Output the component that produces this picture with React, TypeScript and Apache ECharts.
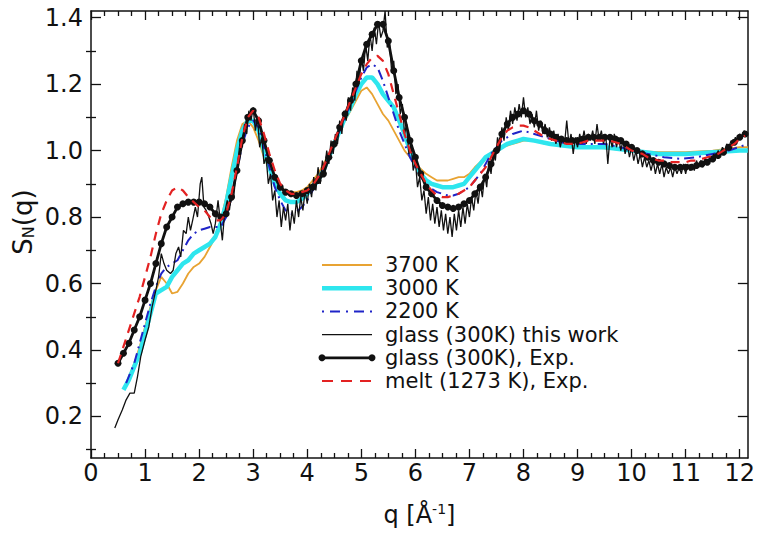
import React, { useEffect, useRef } from "react";
import * as echarts from "echarts";

// ---- tick labels ----
const xMajorTicks = [0, 1, 2, 3, 4, 5, 6, 7, 8, 9, 10, 11, 12];
const xMinorTicks = [0.25, 0.5, 0.75, 1.25, 1.5, 1.75, 2.25, 2.5, 2.75, 3.25, 3.5, 3.75, 4.25, 4.5, 4.75, 5.25, 5.5, 5.75, 6.25, 6.5, 6.75, 7.25, 7.5, 7.75, 8.25, 8.5, 8.75, 9.25, 9.5, 9.75, 10.25, 10.5, 10.75, 11.25, 11.5, 11.75];
const yMajorTicks = [0.2, 0.4, 0.6, 0.8, 1.0, 1.2, 1.4];
const yMinorTicks = [0.1, 0.3, 0.5, 0.7, 0.9, 1.1, 1.3];

// ---- series names ----
const names = ["3700 K", "3000 K", "2200 K", "glass (300K) this work", "glass (300K), Exp.", "melt (1273 K), Exp."];

// ---- data: [q, S_N(q)] ----
const s3700 = [[0.7,.32],[0.8,.36],[0.9,.41],[1.0,.47],[1.1,.53],[1.2,.58],[1.3,.62],[1.4,.60],[1.5,.57],[1.6,.575],[1.7,.60],[1.8,.63],[1.9,.65],[2.0,.66],[2.1,.68],[2.2,.71],[2.3,.74],[2.4,.79],[2.5,.86],[2.6,.95],[2.7,1.03],[2.8,1.08],[2.9,1.09],[3.0,1.07],[3.1,1.03],[3.2,.98],[3.3,.94],[3.4,.91],[3.5,.89],[3.6,.88],[3.7,.875],[3.8,.875],[3.9,.88],[4.0,.89],[4.1,.91],[4.2,.93],[4.3,.96],[4.4,.99],[4.5,1.02],[4.6,1.06],[4.7,1.09],[4.8,1.12],[4.9,1.15],[5.0,1.18],[5.1,1.19],[5.2,1.17],[5.3,1.14],[5.4,1.11],[5.5,1.09],[5.6,1.06],[5.7,1.03],[5.8,1.0],[5.9,.98],[6.0,.96],[6.1,.945],[6.2,.93],[6.3,.92],[6.4,.91],[6.5,.91],[6.6,.91],[6.7,.915],[6.8,.92],[6.9,.92],[7.0,.93],[7.1,.95],[7.2,.965],[7.3,.98],[7.4,.99],[7.5,1.0],[7.6,1.01],[7.7,1.015],[7.8,1.02],[7.9,1.025],[8.0,1.03],[8.2,1.03],[8.4,1.02],[8.6,1.02],[8.8,1.015],[9.0,1.015],[9.3,1.01],[9.6,1.005],[10.0,1.0],[10.5,.995],[11.0,.995],[11.5,1.0],[12.0,1.01],[12.15,1.01]];

const s3000 = [[0.6,.28],[0.7,.31],[0.8,.35],[0.9,.39],[1.0,.45],[1.1,.51],[1.2,.57],[1.3,.58],[1.4,.59],[1.5,.62],[1.6,.64],[1.7,.66],[1.8,.67],[1.9,.69],[2.0,.70],[2.1,.71],[2.2,.72],[2.3,.74],[2.4,.78],[2.5,.84],[2.6,.92],[2.7,1.0],[2.8,1.06],[2.9,1.09],[3.0,1.09],[3.1,1.06],[3.2,1.0],[3.3,.95],[3.4,.90],[3.5,.87],[3.6,.85],[3.7,.845],[3.8,.845],[3.9,.855],[4.0,.87],[4.1,.89],[4.2,.91],[4.3,.94],[4.4,.98],[4.5,1.02],[4.6,1.06],[4.7,1.10],[4.8,1.13],[4.9,1.17],[5.0,1.20],[5.1,1.22],[5.2,1.22],[5.3,1.20],[5.4,1.17],[5.5,1.15],[5.6,1.13],[5.7,1.09],[5.8,1.05],[5.9,1.0],[6.0,.96],[6.1,.93],[6.2,.91],[6.3,.90],[6.4,.895],[6.5,.89],[6.6,.89],[6.7,.89],[6.8,.895],[6.9,.90],[7.0,.92],[7.1,.94],[7.2,.96],[7.3,.98],[7.4,.99],[7.5,1.0],[7.6,1.01],[7.7,1.02],[7.8,1.025],[7.9,1.03],[8.0,1.035],[8.2,1.03],[8.5,1.02],[9.0,1.01],[9.5,1.01],[10.0,1.0],[10.5,.99],[11.0,.99],[11.5,.995],[12.0,1.0],[12.15,1.0]];

const s2200 = [[0.65,.30],[0.8,.36],[0.9,.42],[1.0,.48],[1.1,.54],[1.2,.59],[1.3,.63],[1.4,.65],[1.5,.66],[1.6,.67],[1.7,.70],[1.8,.73],[1.9,.75],[2.0,.76],[2.1,.765],[2.2,.77],[2.3,.77],[2.4,.77],[2.5,.80],[2.6,.86],[2.7,.94],[2.8,1.02],[2.9,1.07],[3.0,1.09],[3.1,1.07],[3.2,1.01],[3.3,.95],[3.4,.89],[3.5,.85],[3.6,.82],[3.7,.81],[3.8,.815],[3.9,.83],[4.0,.85],[4.1,.88],[4.2,.91],[4.3,.94],[4.4,.98],[4.5,1.02],[4.6,1.06],[4.7,1.10],[4.8,1.14],[4.9,1.18],[5.0,1.22],[5.1,1.25],[5.2,1.26],[5.3,1.25],[5.4,1.21],[5.5,1.16],[5.6,1.11],[5.7,1.06],[5.8,1.02],[5.9,.98],[6.0,.95],[6.1,.92],[6.2,.90],[6.3,.885],[6.4,.875],[6.5,.87],[6.6,.865],[6.7,.865],[6.8,.87],[6.9,.88],[7.0,.89],[7.1,.91],[7.2,.93],[7.3,.96],[7.4,.99],[7.5,1.01],[7.6,1.03],[7.7,1.04],[7.8,1.05],[7.9,1.055],[8.0,1.06],[8.1,1.055],[8.2,1.05],[8.4,1.04],[8.6,1.03],[8.8,1.02],[9.0,1.02],[9.2,1.02],[9.5,1.02],[9.8,1.01],[10.0,1.0],[10.3,.99],[10.6,.98],[10.9,.975],[11.2,.98],[11.5,.99],[11.8,1.0],[12.15,1.02]];

const sGlassSim = [[0.44,.165],[0.5,.19],[0.58,.22],[0.65,.25],[0.72,.27],[0.8,.27],[0.86,.32],[0.92,.38],[1.0,.43],[1.07,.47],[1.13,.53],[1.2,.58],[1.25,.62],[1.3,.69],[1.35,.66],[1.4,.64],[1.47,.63],[1.52,.64],[1.57,.69],[1.62,.71],[1.66,.68],[1.71,.76],[1.76,.75],[1.8,.80],[1.84,.76],[1.88,.79],[1.93,.83],[1.97,.80],[2.02,.90],[2.05,.92],[2.09,.83],[2.13,.82],[2.18,.80],[2.22,.78],[2.26,.75],[2.3,.78],[2.35,.85],[2.39,.79],[2.43,.73],[2.47,.81],[2.52,.85],[2.56,.82],[2.6,.87],[2.64,.86],[2.68,.93],[2.72,.97],[2.76,1.03],[2.8,1.01],[2.84,1.08],[2.88,1.05],[2.92,1.12],[2.96,1.09],[3.0,1.13],[3.04,1.06],[3.08,1.10],[3.12,1.01],[3.16,1.04],[3.2,.96],[3.24,.98],[3.28,.90],[3.32,.93],[3.36,.85],[3.4,.88],[3.44,.80],[3.48,.85],[3.52,.77],[3.56,.83],[3.6,.79],[3.64,.84],[3.68,.76],[3.72,.82],[3.76,.78],[3.8,.85],[3.84,.80],[3.88,.86],[3.92,.82],[3.96,.88],[4.0,.84],[4.04,.90],[4.08,.86],[4.12,.92],[4.16,.88],[4.2,.95],[4.24,.90],[4.28,.97],[4.32,.94],[4.36,1.0],[4.4,.96],[4.44,1.03],[4.48,.99],[4.52,1.05],[4.56,1.02],[4.6,1.09],[4.64,1.05],[4.68,1.12],[4.72,1.09],[4.76,1.16],[4.8,1.12],[4.84,1.19],[4.88,1.15],[4.92,1.24],[4.96,1.20],[5.0,1.28],[5.04,1.24],[5.08,1.32],[5.12,1.27],[5.16,1.35],[5.2,1.30],[5.24,1.37],[5.28,1.32],[5.32,1.39],[5.36,1.34],[5.4,1.36],[5.44,1.42],[5.48,1.31],[5.52,1.33],[5.56,1.24],[5.6,1.27],[5.64,1.17],[5.68,1.20],[5.72,1.11],[5.76,1.14],[5.8,1.05],[5.84,1.08],[5.88,.99],[5.92,1.02],[5.96,.94],[6.0,.97],[6.04,.89],[6.08,.92],[6.12,.85],[6.16,.88],[6.2,.81],[6.24,.86],[6.28,.79],[6.32,.84],[6.36,.78],[6.4,.83],[6.44,.77],[6.48,.82],[6.52,.76],[6.56,.81],[6.6,.75],[6.64,.80],[6.68,.74],[6.72,.81],[6.76,.76],[6.8,.82],[6.84,.77],[6.88,.83],[6.92,.78],[6.96,.84],[7.0,.80],[7.04,.86],[7.08,.82],[7.12,.88],[7.16,.84],[7.2,.90],[7.24,.86],[7.28,.93],[7.32,.89],[7.36,.97],[7.4,.93],[7.44,1.0],[7.48,.97],[7.52,1.04],[7.56,1.0],[7.6,1.07],[7.64,1.03],[7.68,1.10],[7.72,1.06],[7.76,1.12],[7.8,1.08],[7.84,1.13],[7.88,1.09],[7.92,1.14],[7.96,1.10],[8.0,1.16],[8.04,1.10],[8.08,1.13],[8.12,1.08],[8.16,1.11],[8.2,1.07],[8.24,1.12],[8.28,1.06],[8.32,1.09],[8.36,1.05],[8.4,1.08],[8.44,1.04],[8.48,1.07],[8.52,1.03],[8.56,1.06],[8.6,1.02],[8.64,1.05],[8.68,1.01],[8.72,1.04],[8.76,1.02],[8.8,1.09],[8.84,1.02],[8.88,1.05],[8.92,.99],[8.96,1.04],[9.0,1.01],[9.04,1.05],[9.08,1.02],[9.12,1.06],[9.16,1.02],[9.2,1.05],[9.24,1.03],[9.28,1.06],[9.32,1.02],[9.36,1.08],[9.4,1.03],[9.44,1.06],[9.48,1.02],[9.52,1.05],[9.56,.96],[9.6,1.04],[9.64,1.01],[9.68,1.05],[9.72,1.01],[9.76,1.04],[9.8,1.0],[9.84,1.03],[9.88,.99],[9.92,1.02],[9.96,.98],[10.0,1.01],[10.04,.97],[10.08,1.0],[10.12,.96],[10.16,.99],[10.2,.95],[10.24,.98],[10.28,.95],[10.32,.97],[10.36,.94],[10.4,.97],[10.44,.93],[10.48,.96],[10.52,.93],[10.56,.96],[10.6,.92],[10.64,.95],[10.68,.93],[10.72,.95],[10.76,.92],[10.8,.95],[10.84,.93],[10.88,.95],[10.92,.93],[10.96,.96],[11.0,.93],[11.04,.96],[11.08,.94],[11.12,.96],[11.16,.94],[11.2,.97],[11.24,.95],[11.28,.97],[11.32,.95],[11.36,.98],[11.4,.96],[11.44,.98],[11.48,.97],[11.52,.99],[11.56,.98],[11.6,1.0],[11.64,.99],[11.68,1.01],[11.72,1.0],[11.76,1.02],[11.8,1.01],[11.84,1.03],[11.88,1.02],[11.92,1.04],[11.96,1.03],[12.0,1.05],[12.04,1.04],[12.08,1.06],[12.12,1.05]];

const sGlassExp = [[0.5,.36],[0.6,.39],[0.7,.42],[0.8,.46],[0.9,.50],[1.0,.55],[1.1,.60],[1.2,.66],[1.3,.72],[1.4,.77],[1.5,.80],[1.6,.83],[1.7,.84],[1.8,.845],[1.9,.845],[2.0,.845],[2.1,.84],[2.2,.83],[2.3,.81],[2.4,.80],[2.5,.81],[2.6,.86],[2.7,.94],[2.8,1.03],[2.9,1.10],[3.0,1.12],[3.1,1.09],[3.2,1.03],[3.3,.97],[3.4,.92],[3.5,.89],[3.6,.875],[3.7,.87],[3.8,.865],[3.9,.87],[4.0,.88],[4.1,.89],[4.2,.91],[4.3,.93],[4.4,.98],[4.5,1.02],[4.6,1.07],[4.7,1.11],[4.8,1.15],[4.9,1.20],[5.0,1.27],[5.1,1.32],[5.2,1.35],[5.3,1.38],[5.4,1.38],[5.5,1.33],[5.6,1.24],[5.7,1.16],[5.8,1.10],[5.9,1.03],[6.0,.98],[6.1,.93],[6.2,.89],[6.3,.87],[6.4,.85],[6.5,.835],[6.6,.83],[6.7,.826],[6.8,.83],[6.9,.84],[7.0,.85],[7.1,.87],[7.2,.89],[7.3,.92],[7.4,.96],[7.5,1.0],[7.6,1.05],[7.7,1.08],[7.8,1.10],[7.9,1.11],[8.0,1.12],[8.1,1.11],[8.2,1.09],[8.3,1.08],[8.4,1.06],[8.5,1.05],[8.6,1.04],[8.7,1.035],[8.8,1.03],[8.9,1.03],[9.0,1.03],[9.1,1.035],[9.2,1.04],[9.3,1.04],[9.4,1.04],[9.5,1.04],[9.6,1.04],[9.7,1.035],[9.8,1.03],[9.9,1.02],[10.0,1.01],[10.1,1.0],[10.2,.99],[10.3,.98],[10.4,.97],[10.5,.965],[10.6,.96],[10.7,.955],[10.8,.95],[10.9,.95],[11.0,.95],[11.1,.95],[11.2,.955],[11.3,.96],[11.4,.965],[11.5,.975],[11.6,.985],[11.7,.995],[11.8,1.01],[11.9,1.025],[12.0,1.04],[12.1,1.05]];

const sMelt = [[0.5,.36],[0.6,.41],[0.7,.46],[0.8,.51],[0.9,.56],[1.0,.62],[1.1,.68],[1.2,.75],[1.3,.81],[1.4,.85],[1.5,.88],[1.6,.89],[1.7,.88],[1.8,.86],[1.9,.845],[2.0,.83],[2.1,.82],[2.2,.80],[2.3,.79],[2.4,.79],[2.5,.81],[2.6,.87],[2.7,.95],[2.8,1.04],[2.9,1.10],[3.0,1.12],[3.1,1.10],[3.2,1.05],[3.3,.99],[3.4,.94],[3.5,.90],[3.6,.88],[3.7,.87],[3.8,.87],[3.9,.875],[4.0,.88],[4.1,.895],[4.2,.92],[4.3,.95],[4.4,.99],[4.5,1.03],[4.6,1.07],[4.7,1.11],[4.8,1.15],[4.9,1.19],[5.0,1.23],[5.1,1.26],[5.2,1.28],[5.3,1.285],[5.4,1.27],[5.5,1.23],[5.6,1.17],[5.7,1.11],[5.8,1.05],[5.9,1.0],[6.0,.96],[6.1,.93],[6.2,.90],[6.3,.88],[6.4,.865],[6.5,.86],[6.6,.86],[6.7,.865],[6.8,.87],[6.9,.88],[7.0,.89],[7.1,.91],[7.2,.93],[7.3,.95],[7.4,.98],[7.5,1.01],[7.6,1.04],[7.7,1.06],[7.8,1.07],[7.9,1.075],[8.0,1.075],[8.1,1.07],[8.2,1.06],[8.3,1.05],[8.4,1.04],[8.5,1.035],[8.6,1.03],[8.7,1.025],[8.8,1.02],[8.9,1.02],[9.0,1.02],[9.1,1.025],[9.2,1.03],[9.3,1.03],[9.4,1.03],[9.5,1.03],[9.6,1.03],[9.7,1.025],[9.8,1.02],[9.9,1.01],[10.0,1.0],[10.1,.995],[10.2,.99],[10.3,.98],[10.4,.975],[10.5,.97],[10.6,.97],[10.7,.965],[10.8,.965],[10.9,.965],[11.0,.965],[11.1,.97],[11.2,.97],[11.3,.975],[11.4,.98],[11.5,.985],[11.6,.99],[11.7,1.0],[11.8,1.01],[11.9,1.02],[12.0,1.035],[12.1,1.045]];

const FONT = "DejaVu Sans";
const X_MIN = 0, X_MAX = 12.15, Y_MIN = 0.075, Y_MAX = 1.42;

const COLORS = ["#e8a332", "#2ee6ee", "#1f24c8", "#111111", "#111111", "#e32222"];
const WIDTHS = [1.8, 4.5, 2, 1.3, 2.8, 2.2];
const DASHES: any[] = [null, null, [10, 5, 2, 5], null, null, [9, 7]];
const LEGEND_DASHES: any[] = [null, null, [2, 6, 10, 6], null, null, [11, 8]];

export default function App() {
  const ref = useRef<HTMLDivElement>(null);
  useEffect(() => {
    const chart = echarts.init(ref.current!, null, { renderer: "svg" });
    const axisLineStyle = { color: "#111", width: 1.5 };
    const xBase = (extra: any) => ({
      type: "value", min: X_MIN, max: X_MAX, splitLine: { show: false },
      axisLine: { show: true, onZero: false, lineStyle: axisLineStyle },
      ...extra,
    });
    const yBase = (extra: any) => ({
      type: "value", min: Y_MIN, max: Y_MAX, splitLine: { show: false },
      axisLine: { show: true, onZero: false, lineStyle: axisLineStyle },
      ...extra,
    });
    const tick = (vals: number[], len: number) => ({ show: true, inside: true, length: len, customValues: vals, lineStyle: { color: "#111", width: 1.3 } });
    const noLabel = { show: false };

    // legend drawn as graphic (line samples + labels)
    const legendX0 = 322, legendX1 = 372, legendTextX = 385, legendY0 = 265, legendStep = 23.2;
    const legendItems: any[] = [];
    names.forEach((nm, i) => {
      const y = legendY0 + i * legendStep;
      legendItems.push({
        type: "line",
        shape: { x1: legendX0, y1: y, x2: legendX1, y2: y },
        style: { stroke: COLORS[i], lineWidth: WIDTHS[i], lineDash: LEGEND_DASHES[i] || undefined },
      });
      if (i === 4) {
        legendItems.push({ type: "circle", shape: { cx: legendX0, cy: y, r: 3.5 }, style: { fill: "#111" } });
        legendItems.push({ type: "circle", shape: { cx: legendX1, cy: y, r: 3.5 }, style: { fill: "#111" } });
      }
      legendItems.push({
        type: "text",
        x: legendTextX,
        y,
        style: { text: nm, fontFamily: FONT, fontSize: 21, fill: "#111", align: "left", verticalAlign: "middle" },
      });
    });

    const seriesData = [s3700, s3000, s2200, sGlassSim, sGlassExp, sMelt];
    const series = seriesData.map((d, i) => ({
      name: names[i],
      type: "line",
      data: d,
      showSymbol: i === 4,
      symbol: i === 4 ? "circle" : "none",
      symbolSize: 7,
      color: COLORS[i],
      itemStyle: { color: COLORS[i] },
      lineStyle: { width: WIDTHS[i], color: COLORS[i], type: DASHES[i] || "solid" },
      z: 2 + i,
    }));

    const option: any = {
      animation: false,
      backgroundColor: "#fff",
      grid: { left: 91, right: 0, top: 11, bottom: 77, containLabel: false },
      xAxis: [
        xBase({
          position: "bottom",
          axisTick: tick(xMajorTicks, 9),
          axisLabel: { show: true, customValues: xMajorTicks, fontFamily: FONT, fontSize: 24, color: "#111", margin: 3 },
          name: "q [Å{sup|-1}]",
          nameLocation: "middle",
          nameGap: 44,
          nameTextStyle: { fontFamily: FONT, fontSize: 24, color: "#111", rich: { sup: { fontFamily: FONT, fontSize: 14, color: "#111", verticalAlign: "top", lineHeight: 26 } } },
        }),
        xBase({ position: "bottom", axisLine: { show: false }, axisTick: tick(xMinorTicks, 5), axisLabel: noLabel }),
        xBase({ position: "top", axisTick: tick(xMajorTicks, 9), axisLabel: noLabel }),
        xBase({ position: "top", axisLine: { show: false }, axisTick: tick(xMinorTicks, 5), axisLabel: noLabel }),
      ],
      yAxis: [
        yBase({
          position: "left",
          axisTick: tick(yMajorTicks, 10),
          axisLabel: { show: true, customValues: yMajorTicks, fontFamily: FONT, fontSize: 24, color: "#111", margin: 8, formatter: (v: number) => v.toFixed(1) },
        }),
        yBase({ position: "left", axisLine: { show: false }, axisTick: tick(yMinorTicks, 5), axisLabel: noLabel }),
        yBase({ position: "right", axisTick: tick(yMajorTicks, 10), axisLabel: noLabel }),
        yBase({ position: "right", axisLine: { show: false }, axisTick: tick(yMinorTicks, 5), axisLabel: noLabel }),
      ],
      series,
      graphic: [
        {
          type: "text",
          x: 36,
          y: 222,
          rotation: Math.PI / 2,
          style: {
            text: "{s|S}{sub|N}{s|(q)}",
            align: "center",
            verticalAlign: "bottom",
            fill: "#111",
            rich: {
              s: { fontFamily: FONT, fontSize: 26, fill: "#111" },
              sub: { fontFamily: FONT, fontSize: 16, fill: "#111", verticalAlign: "bottom" },
            },
          },
        },
        { type: "group", z: 100, children: legendItems },
      ],
    };
    chart.setOption(option);
    return () => chart.dispose();
  }, []);
  return <div ref={ref} style={{ position: "fixed", left: 0, top: 0, width: 758, height: 535, background: "#fff" }} />;
}
